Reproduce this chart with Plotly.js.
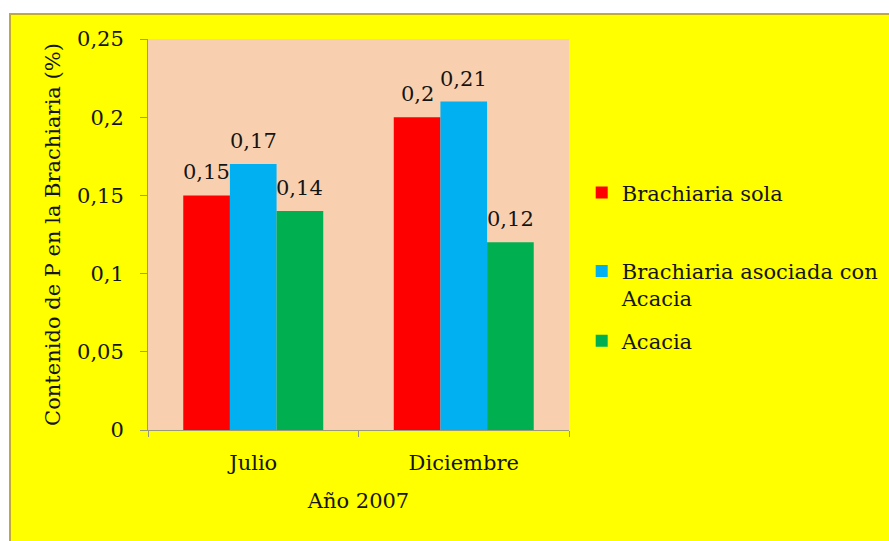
<!DOCTYPE html>
<html>
<head>
<meta charset="utf-8">
<script src="https://cdn.plot.ly/plotly-3.0.1.min.js"></script>
<style>
  html, body { margin: 0; padding: 0; background: #ffffff; width: 889px; height: 541px; overflow: hidden; }
  #frame { position: absolute; left: 9px; top: 13px; width: 880px; height: 528px;
           border-left: 2px solid #BFA93A; border-top: 2px solid #BFA93A; background: #FFFF00; }
  #chart { width: 878px; height: 526px; }
</style>
</head>
<body>
<div id="frame"><div id="chart"></div></div>
<script>
const categories = ["Julio", "Diciembre"];
const seriesNames = ["Brachiaria sola", "Brachiaria asociada con<br>Acacia", "Acacia"];
const brachiariaSola = [0.15, 0.20];
const brachiariaAsociada = [0.17, 0.21];
const acacia = [0.14, 0.12];
const yTickVals = [0, 0.05, 0.1, 0.15, 0.2, 0.25];
const yTickText = ["0", "0,05", "0,1", "0,15", "0,2", "0,25"];
const colors = ["#FF0000", "#00B0F0", "#00B050"];

const FONT = "DejaVu Serif";
const TEXT_COLOR = "#141414";
const fmt = v => String(v).replace(".", ",");

const W = 878, H = 526;
const margin = { l: 137, r: 320, t: 24, b: 111 };
const bargap = 0.335;
const plotW = W - margin.l - margin.r;
const barPx = plotW / categories.length * (1 - bargap) / 3;

const seriesValues = [brachiariaSola, brachiariaAsociada, acacia];
const legendIds = ["legend", "legend2", "legend3"];

const traces = seriesValues.map((vals, i) => ({
  type: "bar",
  name: seriesNames[i],
  x: categories,
  y: vals,
  marker: { color: colors[i], line: { width: 0 } },
  legend: legendIds[i],
  hoverinfo: "skip"
}));

// value labels, placed via the axes' own scales
const annotations = [];
seriesValues.forEach((vals, i) => {
  vals.forEach((v, j) => {
    annotations.push({
      x: categories[j], y: v, xref: "x", yref: "y",
      text: fmt(v), showarrow: false,
      xshift: (i - 1) * barPx, yshift: 23, yanchor: "middle",
      font: { family: FONT, size: 21, color: TEXT_COLOR }
    });
  });
});

const legendBase = {
  xref: "container", yref: "container",
  xanchor: "left", yanchor: "middle", x: 0.650,
  bgcolor: "rgba(0,0,0,0)", borderwidth: 0,
  font: { family: FONT, size: 21, color: TEXT_COLOR },
  itemwidth: 30, itemclick: false, itemdoubleclick: false
};

const layout = {
  width: W, height: H,
  margin: margin,
  paper_bgcolor: "#FFFF00",
  plot_bgcolor: "#F9D0AF",
  separators: ",.",
  barmode: "group",
  bargap: bargap,
  bargroupgap: 0,
  font: { family: FONT, size: 21, color: TEXT_COLOR },
  xaxis: {
    type: "category",
    tickson: "boundaries",
    ticks: "outside", ticklen: 6, tickcolor: "#9a9a7a",
    ticklabelstandoff: 14,
    showline: true, linecolor: "#9a9a7a", linewidth: 1,
    showgrid: false, zeroline: false,
    tickfont: { family: FONT, size: 21, color: TEXT_COLOR },
    title: { text: "Año 2007", font: { family: FONT, size: 21, color: TEXT_COLOR }, standoff: 19 },
    automargin: false
  },
  yaxis: {
    range: [0, 0.25],
    tickvals: yTickVals, ticktext: yTickText,
    ticks: "outside", ticklen: 7, tickcolor: "#9a9a7a",
    ticklabelstandoff: 12,
    showline: true, linecolor: "#9a9a7a", linewidth: 1,
    showgrid: false, zeroline: false,
    tickfont: { family: FONT, size: 21, color: TEXT_COLOR },
    title: { text: "Contenido de P en la Brachiaria (%)", font: { family: FONT, size: 21, color: TEXT_COLOR }, standoff: 10 },
    automargin: false
  },
  annotations: annotations,
  legend: Object.assign({}, legendBase, { y: 0.662 }),
  legend2: Object.assign({}, legendBase, { y: 0.487, valign: "top" }),
  legend3: Object.assign({}, legendBase, { y: 0.380 }),
  showlegend: true
};

Plotly.newPlot("chart", traces, layout, { displayModeBar: false, staticPlot: true });
</script>
</body>
</html>
